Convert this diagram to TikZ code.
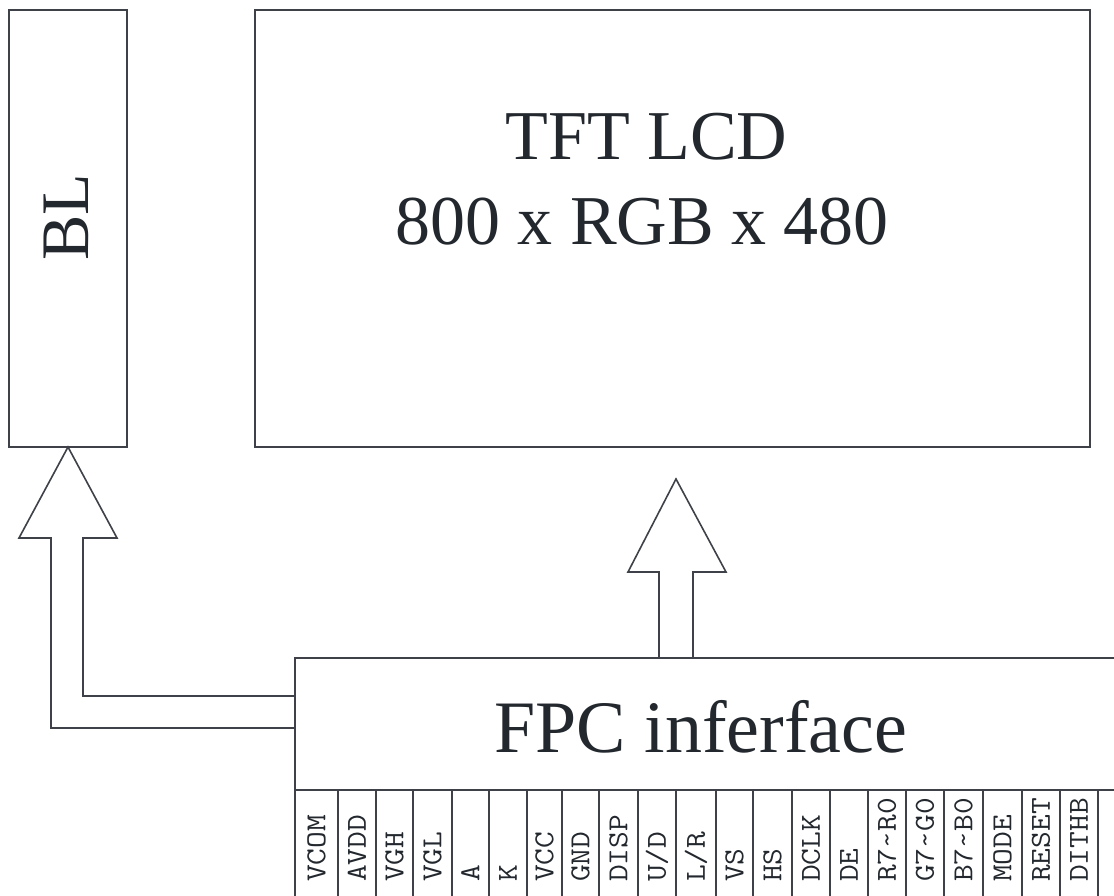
\documentclass[tikz,border=0pt]{standalone}
\usepackage{fontspec}
\setmainfont{Liberation Serif}
\usetikzlibrary{calc}
\definecolor{linec}{RGB}{62,66,72}
\definecolor{textc}{RGB}{35,40,46}
\begin{document}
\begin{tikzpicture}[x=1pt,y=-1pt,
  box/.style={draw=linec, line width=1.6pt, inner sep=0pt, outer sep=0pt},
  conn/.style={draw=linec, line width=1.6pt, line join=miter},
  bigtext/.style={text=textc, inner sep=0pt, font=\fontsize{70}{70}\selectfont},
  fpctext/.style={text=textc, inner sep=0pt, font=\fontsize{74}{74}\selectfont},
  bltext/.style={text=textc, inner sep=0pt, font=\fontsize{68}{68}\selectfont},
  pinlabel/.style={text=textc, inner sep=0pt, rotate=90, xscale=1.12, anchor=west,
     text height=17.7pt, text depth=0pt, font=\ttfamily\fontsize{29}{29}\selectfont}]
\useasboundingbox (0,0) rectangle (1114,896);
\clip (0,0) rectangle (1114,896);

% boxes
\node[box, minimum width=118pt, minimum height=437pt] (BL) at (68,228.5) {};
\node[bltext, rotate=90, anchor=base] (BLt) at (88,217.5) {BL};

\node[box, minimum width=835pt, minimum height=437pt] (LCD) at (672.5,228.5) {};
\node[bigtext, anchor=base] (t1) at (646.5,160) {TFT LCD};
\node[bigtext, anchor=base] (t2) at (642,244) {800 x RGB x 480};

\node[box, minimum width=860pt, minimum height=132pt, anchor=north west] (FPC) at (295,658) {};
\node[fpctext, anchor=base] (t3) at (701,752) {FPC inferface};

% arrow FPC -> BL
\coordinate (blA) at ($(FPC.west |- 0,696)$);
\coordinate (blB) at ($(FPC.west |- 0,728)$);
\draw[conn] (blA) -- (83,696) -- (83,538) -- (117,538) -- (BL.south)
  -- (19,538) -- (51,538) -- (51,728) -- (blB);

% arrow FPC -> LCD
\coordinate (tip) at (676,479);
\coordinate (sL) at ($(FPC.north west)+(364,0)$);
\coordinate (sR) at ($(FPC.north west)+(398,0)$);
\draw[conn] (sL) -- (659,572) -- (628,572) -- (tip)
  -- (726,572) -- (693,572) -- (sR);

% pins
\draw[conn] (FPC.south west) -- (295,900);
\foreach \l/\r/\t in {295/338/VCOM, 338/376/AVDD, 376/413/VGH, 413/452/VGL,
  452/489/A, 489/527/K, 527/562/VCC, 562/599/GND, 599/638/DISP, 638/676/{U/D},
  676/716/{L/R}, 716/753/VS, 753/792/HS, 792/830/DCLK, 830/868/DE,
  868/906/{R7\textasciitilde R0}, 906/944/{G7\textasciitilde G0},
  944/983/{B7\textasciitilde B0}, 983/1022/MODE, 1022/1060/RESET, 1060/1098/DITHB}{
  \draw[conn] (\r,790) -- (\r,900);
  \node[pinlabel] (p\r) at ({(\l+\r)/2},882) {\t};
}
\end{tikzpicture}
\end{document}
